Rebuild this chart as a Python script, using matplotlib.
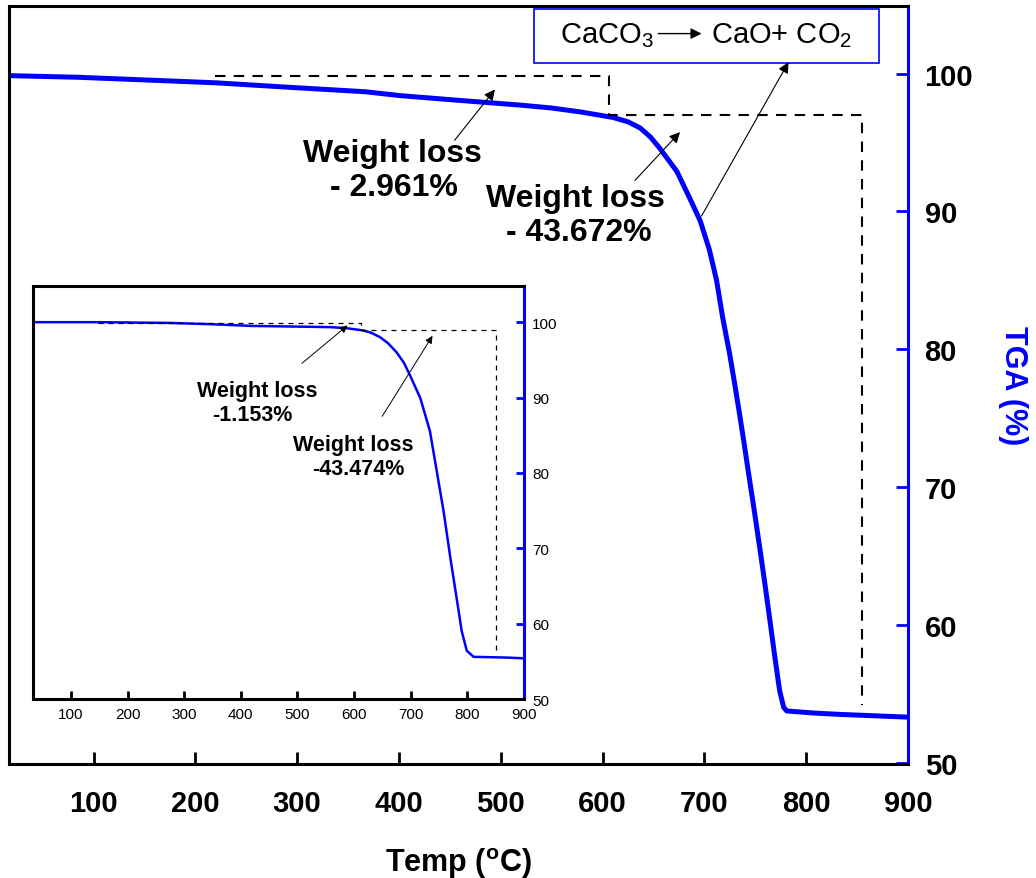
import matplotlib
matplotlib.use("Agg")
import matplotlib.pyplot as plt
from matplotlib.patches import Rectangle

plt.rcParams['font.family'] = ['Liberation Sans', 'DejaVu Sans']
plt.rcParams['mathtext.fontset'] = 'custom'
plt.rcParams['mathtext.rm'] = 'Liberation Sans'
plt.rcParams['mathtext.it'] = 'Liberation Sans'
plt.rcParams['mathtext.bf'] = 'Liberation Sans:bold'

# ---- main TGA curve (temperature in °C, weight %) ----
main_temp = [17, 85, 146, 220, 293, 367, 401, 460, 521, 550, 578, 610, 625, 637, 647,
             656, 673, 686, 696, 705, 712, 718, 725, 730, 735, 739, 743, 748, 752, 755,
             760, 765, 769, 774, 778, 781, 807, 833, 900]
main_tga = [99.85, 99.73, 99.55, 99.33, 99.0, 98.68, 98.4, 98.05, 97.7, 97.5, 97.22,
            96.82, 96.5, 96.05, 95.4, 94.6, 92.9, 90.9, 89.3, 87.2, 85.0, 82.3, 79.6,
            77.4, 75.1, 73.2, 71.2, 68.8, 66.8, 65.3, 62.7, 60.0, 57.8, 55.2, 54.0,
            53.75, 53.6, 53.5, 53.3]

# ---- inset TGA curve ----
ins_temp = [33, 150, 274, 344, 420, 511, 558, 587, 616, 630, 646, 660, 675, 688, 699,
            717, 734, 746, 758, 770, 781, 790, 799, 811, 870, 900]
ins_tga = [100.0, 100.0, 99.9, 99.74, 99.5, 99.4, 99.34, 99.2, 98.9, 98.6, 98.0, 97.2,
           96.0, 94.6, 92.9, 89.9, 85.5, 80.2, 74.9, 68.7, 63.4, 59.0, 56.4, 55.6, 55.5,
           55.4]

x_ticks = [100, 200, 300, 400, 500, 600, 700, 800, 900]
y_ticks = [50, 60, 70, 80, 90, 100]

main_loss1 = "- 2.961%"
main_loss2 = "- 43.672%"
ins_loss1 = "-1.153%"
ins_loss2 = "-43.474%"

BLUE = '#0000ff'

fig = plt.figure(figsize=(10.36, 8.79), dpi=100)
ax = fig.add_axes([0.0087, 0.1297, 0.8677, 0.8623])
ax.plot(main_temp, main_tga, color=BLUE, lw=3.6, solid_joinstyle='round')
ax.set_xlim(17, 900)
ax.set_ylim(49.9, 104.9)
ax.yaxis.tick_right()
ax.yaxis.set_label_position('right')
ax.set_xticks(x_ticks)
ax.set_yticks(y_ticks)
ax.tick_params(axis='x', direction='in', length=9, width=2, pad=18, labelsize=21, color='black')
ax.tick_params(axis='y', direction='in', length=9, width=2, pad=12, labelsize=21, color=BLUE)
for lab in ax.get_xticklabels() + ax.get_yticklabels():
    lab.set_fontweight('bold')
for s in ['left', 'top', 'bottom']:
    ax.spines[s].set_linewidth(2.2)
    ax.spines[s].set_color('black')
ax.spines['right'].set_linewidth(2.2)
ax.spines['right'].set_color(BLUE)
ax.set_xlabel('Temp ($\\mathregular{^{o}}$C)', fontsize=22, fontweight='bold', labelpad=20)
ax.set_ylabel('TGA (%)', fontsize=22, fontweight='bold', color=BLUE, labelpad=18,
              rotation=270, va='bottom')

# dashed guide lines (main)
dkw = dict(color='black', lw=1.5, ls=(0, (5, 4)))
ax.plot([219, 606, 606, 855, 855], [99.8, 99.8, 97.0, 97.0, 54.2], **dkw)

akw = dict(arrowstyle='-|>', color='black', lw=0.8, mutation_scale=16)
ax.annotate('', xy=(496, 99.0), xytext=(453, 95.0), arrowprops=akw)
ax.annotate('', xy=(678, 95.9), xytext=(630, 92.1), arrowprops=akw)
ax.annotate('', xy=(784, 101.0), xytext=(696, 89.5), arrowprops=akw)

tkw = dict(ha='center', va='center', fontsize=23, fontweight='bold')
ax.text(394, 94.2, 'Weight loss', **tkw)
ax.text(395, 91.8, main_loss1, **tkw)
ax.text(573, 91.0, 'Weight loss', **tkw)
ax.text(577, 88.5, main_loss2, **tkw)

# reaction box
ax.add_patch(Rectangle((533, 100.75), 339, 3.95, fill=False, edgecolor=BLUE, lw=1.2))
ax.text(604, 102.8, 'CaCO$_3$', ha='center', va='center', fontsize=21)
ax.annotate('', xy=(700, 102.9), xytext=(652, 102.9),
            arrowprops=dict(arrowstyle='-|>', color='black', lw=1.0, mutation_scale=16))
ax.text(776, 102.8, 'CaO+ CO$_2$', ha='center', va='center', fontsize=21)

# ---- inset ----
ins = fig.add_axes([0.0319, 0.2036, 0.4739, 0.4699])
ins.plot(ins_temp, ins_tga, color=BLUE, lw=1.8, solid_joinstyle='round')
ins.set_xlim(33, 900)
ins.set_ylim(50, 104.8)
ins.yaxis.tick_right()
ins.set_xticks(x_ticks)
ins.set_yticks(y_ticks)
ins.tick_params(axis='x', direction='in', length=6, width=2, pad=6, labelsize=11)
ins.tick_params(axis='y', direction='in', length=6, width=2, pad=6, labelsize=11, color=BLUE)
for s in ['left', 'top', 'bottom']:
    ins.spines[s].set_linewidth(2.2)
ins.spines['right'].set_linewidth(2.2)
ins.spines['right'].set_color(BLUE)

dkw2 = dict(color='black', lw=0.9, ls=(0, (4, 4)))
ins.plot([147, 613, 613, 850, 850], [99.9, 99.9, 98.9, 98.9, 56.2], **dkw2)
akw2 = dict(arrowstyle='-|>', color='black', lw=0.7, mutation_scale=11)
ins.annotate('', xy=(592, 99.8), xytext=(504, 94.3), arrowprops=akw2)
ins.annotate('', xy=(741, 98.5), xytext=(647, 87.2), arrowprops=akw2)
ikw = dict(ha='center', va='center', fontsize=15.5, fontweight='bold')
ins.text(429, 90.9, 'Weight loss', **ikw)
ins.text(420, 87.8, ins_loss1, **ikw)
ins.text(598, 83.8, 'Weight loss', **ikw)
ins.text(607, 80.6, ins_loss2, **ikw)

fig.savefig('out.png', dpi=100)
